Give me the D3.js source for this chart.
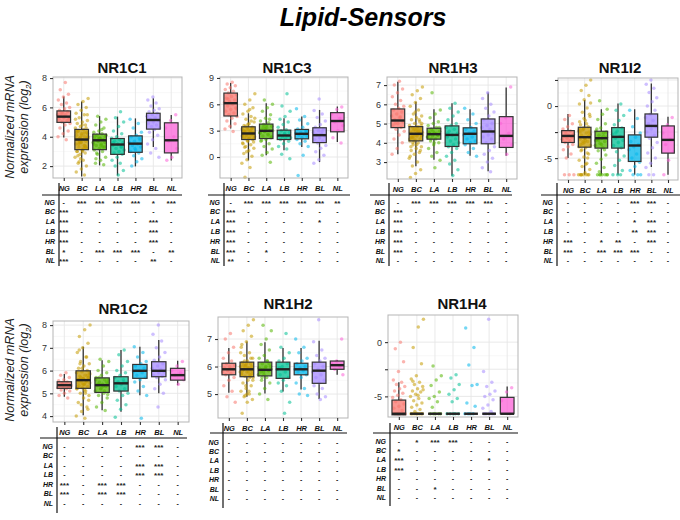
<!DOCTYPE html>
<html><head><meta charset="utf-8">
<script src="https://cdn.jsdelivr.net/npm/d3@7"></script>
<style>body{margin:0;background:#fff;} svg{display:block;font-family:"Liberation Sans",Arial,sans-serif;}</style>
</head><body><svg id="c" width="680" height="520"></svg>
<script>
const mainTitle = "Lipid-Sensors";
const groups = ["NG","BC","LA","LB","HR","BL","NL"];
const genes = ["NR1C1","NR1C3","NR1H3","NR1I2","NR1C2","NR1H2","NR1H4"];
const colors = ["#F8766D","#C49A00","#53B400","#00C094","#00B6EB","#A58AFF","#FB61D7"];

// y-axis domains and ticks per gene
const yDomains = [[1.19,8.07],[-2.39,9.11],[2.12,7.42],[-7.1,2.69],[3.74,8.18],[4.13,7.8],[-6.9,2.5]];
const yTicks = [[2,4,6,8],[0,3,6,9],[3,4,5,6,7],[-5,-2.5,0,2.5],[4,5,6,7,8],[5,6,7],[-5,-2.5,0]];
const yTickLabels = [["2","4","6","8"],["0","3","6","9"],["3","4","5","6","7"],["-5","","0",""],["4","5","6","7","8"],["5","6","7"],["-5","","0"]];

// box stats: [lower whisker, q1, median, q3, upper whisker]
const nr1c1Box = [[3.95,4.98,5.37,5.76,6.74],[1.29,3.12,3.81,4.5,6.4],[2.05,3.12,3.76,4.18,5.41],[1.36,2.8,3.47,3.88,5.37],[1.98,2.94,3.53,4.06,5.25],[3.3,4.52,5.14,5.6,6.63],[2.39,2.9,3.76,4.95,5.48]];
const nr1c3Box = [[3.25,4.67,6.13,7.28,8.42],[-0.39,1.99,2.68,3.44,4.98],[0.19,2.1,2.98,3.75,6.13],[0.76,1.99,2.45,3.06,4.4],[1.15,2.07,2.64,3.14,4.6],[-0.58,1.64,2.49,3.33,5.36],[1.72,2.87,4.1,5.05,5.74]];
const nr1h3Box = [[3.41,4.79,5.16,5.76,7.17],[2.78,4.1,4.47,4.84,6.14],[3.12,4.19,4.45,4.76,5.74],[2.29,3.81,4.41,4.88,6.05],[3.33,3.95,4.47,4.78,5.74],[2.52,3.95,4.59,5.24,6.62],[3.33,3.76,4.36,5.36,6.88]];
const nr1i2Box = [[-5.0,-3.5,-2.87,-2.36,-0.76],[-6.6,-3.95,-2.99,-2.04,0.57],[-6.6,-4.04,-3.09,-2.42,-0.32],[-6.6,-4.04,-2.96,-2.07,0.25],[-6.6,-5.32,-3.79,-2.77,-0.32],[-5.86,-2.99,-1.91,-0.76,2.17],[-6.6,-4.52,-3.25,-1.91,-1.02]];
const nr1c2Box = [[4.85,5.22,5.36,5.51,5.85],[4.04,5.22,5.58,5.99,7.05],[4.26,5.04,5.36,5.68,6.46],[4.19,5.1,5.44,5.73,6.9],[4.92,5.66,5.99,6.27,7.05],[5.0,5.73,5.99,6.39,7.34],[5.36,5.58,5.8,6.1,6.43]];
const nr1h2Box = [[5.05,5.7,5.9,6.12,6.67],[4.9,5.63,5.9,6.16,6.91],[5.02,5.66,5.88,6.16,6.88],[5.09,5.57,5.9,6.16,6.67],[5.17,5.7,5.9,6.12,6.67],[4.82,5.39,5.85,6.16,6.94],[5.7,5.9,6.05,6.2,6.24]];
const nr1h4Box = [[-6.7,-6.7,-6.6,-5.34,-3.7],[-6.6,-6.6,-6.6,-6.6,-6.6],[-6.6,-6.6,-6.6,-6.6,-6.6],[-6.6,-6.6,-6.6,-6.6,-6.6],[-6.6,-6.6,-6.6,-6.6,-6.6],[-6.6,-6.6,-6.6,-6.6,-6.6],[-6.6,-6.6,-6.6,-5.09,-4.1]];

// individual samples
const nr1c1Points = [
 [7.7,7.2,6.9,6.7,6.5,6.3,6.2,6.0,5.9,5.8,5.7,5.6,5.5,5.5,5.4,5.3,5.3,5.2,5.1,5.0,4.9,4.8,4.6,4.4,4.2,4.0,3.8,5.6,5.2,5.4],
 [6.6,6.4,6.2,6.0,5.8,5.6,5.5,5.3,5.1,5.0,4.9,4.8,4.7,4.6,4.5,4.4,4.3,4.2,4.1,4.0,3.9,3.9,3.8,3.8,3.7,3.6,3.5,3.4,3.3,3.2,3.1,3.0,2.9,2.8,2.6,2.4,2.2,2.0,1.8,1.6,1.4,3.6,4.2,3.0,4.4,3.3,2.5,5.2,
  3.2,3.5,3.9,4.1,4.3,3.4,3.7,4.0,3.1,2.7,4.6,3.6,3.85,4.25,2.3,5.5,4.8,3.0,3.3,3.95],
 [5.4,5.2,5.0,4.8,4.6,4.4,4.3,4.2,4.1,4.0,3.9,3.8,3.8,3.7,3.6,3.5,3.4,3.3,3.2,3.1,3.0,2.8,2.6,2.4,2.2,2.1,3.9,3.5,4.5,2.9,3.6,3.9,4.0,3.3,3.75,4.1,3.4,2.5],
 [5.7,5.3,5.0,4.7,4.4,4.2,4.0,3.9,3.8,3.7,3.6,3.5,3.4,3.3,3.2,3.1,3.0,2.9,2.8,2.6,2.4,2.2,2.0,1.7,1.4,3.6,3.3],
 [5.2,4.9,4.6,4.3,4.1,4.0,3.9,3.7,3.6,3.5,3.4,3.3,3.1,3.0,2.9,2.7,2.5,2.3,2.0,3.8,3.2],
 [6.7,6.5,6.3,6.1,5.9,5.8,5.7,5.6,5.5,5.4,5.3,5.2,5.1,5.0,4.9,4.8,4.7,4.6,4.5,4.3,4.1,3.8,3.5,3.2,2.9,2.6],
 [5.5,5.1,4.6,4.0,3.7,3.2,2.6,2.4]];
const nr1c3Points = [
 [8.5,8.3,8.1,7.9,7.7,7.5,7.3,7.1,6.9,6.7,6.5,6.3,6.2,6.0,5.8,5.6,5.4,5.2,5.0,4.8,4.6,4.4,4.1,3.8,3.5,3.2,2.9,6.6,5.5],
 [7.2,6.5,6.0,5.6,5.2,4.9,4.6,4.3,4.0,3.8,3.6,3.4,3.3,3.2,3.0,2.9,2.8,2.7,2.6,2.5,2.4,2.3,2.2,2.1,2.0,1.8,1.6,1.4,1.2,1.0,0.7,0.4,0.1,-0.3,-0.7,-1.2,-2.3,2.7,3.1,1.5,4.1,2.5,
  2.2,2.6,3.0,3.3,1.9,2.4,2.8,3.5,1.7,2.1,2.9,3.2,0.6,4.4,5.4,1.1,2.55,3.7,2.35,2.75],
 [6.5,6.0,5.6,5.2,4.8,4.4,4.1,3.9,3.7,3.5,3.3,3.1,3.0,2.9,2.8,2.6,2.4,2.2,2.0,1.8,1.5,1.2,0.9,0.5,0.2,-0.6,3.2,2.7,2.5,3.4,2.3,3.6,1.9,4.3,2.9,3.0],
 [7.2,5.8,5.2,4.6,4.3,4.0,3.7,3.4,3.1,3.0,2.8,2.6,2.5,2.4,2.3,2.2,2.1,2.0,1.8,1.5,1.2,0.9,0.3,-0.2,2.7],
 [5.5,4.6,4.2,3.8,3.4,3.2,3.0,2.8,2.7,2.6,2.5,2.4,2.2,2.0,1.8,1.5,1.2,0.2,-2.1,2.9],
 [6.6,5.3,4.9,4.5,4.1,3.7,3.4,3.2,3.0,2.8,2.6,2.5,2.4,2.2,2.0,1.8,1.6,1.3,1.0,0.6,0.2,-0.3,-0.7,2.9],
 [5.7,5.4,4.9,4.4,4.0,3.6,3.0,2.2,1.6]];
const nr1h3Points = [
 [7.2,7.0,6.8,6.6,6.4,6.2,6.0,5.9,5.8,5.7,5.6,5.5,5.4,5.3,5.2,5.1,5.0,4.9,4.8,4.7,4.6,4.4,4.2,4.0,3.7,3.4,5.35,5.0],
 [6.9,6.7,6.5,6.3,6.1,5.9,5.7,5.5,5.4,5.3,5.2,5.1,5.0,4.9,4.85,4.8,4.7,4.6,4.55,4.5,4.45,4.4,4.35,4.3,4.2,4.15,4.1,4.0,3.9,3.8,3.7,3.6,3.5,3.4,3.2,3.0,2.8,2.6,2.4,2.2,4.6,4.3,5.0,3.9,
  4.3,4.5,4.7,4.2,4.6,4.0,4.9,4.4,3.8,5.2,4.1,4.55,4.75,4.25,3.6,5.6,3.3,4.45,4.65,4.35],
 [6.6,5.7,5.5,5.3,5.1,5.0,4.9,4.8,4.7,4.6,4.5,4.45,4.4,4.35,4.3,4.2,4.1,4.0,3.9,3.7,3.5,3.3,3.1,2.7,4.5,4.4,4.6,4.3,4.5,4.2,4.8,4.0,4.55],
 [6.05,5.8,5.6,5.4,5.2,5.0,4.9,4.8,4.7,4.6,4.5,4.4,4.3,4.2,4.1,4.0,3.9,3.8,3.7,3.5,3.3,3.1,2.9,2.6,2.3,4.5],
 [5.8,5.5,5.2,5.0,4.8,4.7,4.6,4.5,4.4,4.3,4.2,4.1,4.0,3.9,3.7,3.5,3.3,4.5],
 [6.6,6.3,6.0,5.8,5.6,5.4,5.2,5.0,4.9,4.8,4.7,4.6,4.5,4.4,4.3,4.2,4.0,3.8,3.6,3.4,3.2,3.0,2.7,2.5],
 [6.9,5.3,5.0,4.5,4.2,3.9,3.4]];
const nr1i2Points = [
 [-0.9,-1.3,-1.7,-2.0,-2.2,-2.4,-2.6,-2.7,-2.8,-2.9,-3.0,-3.1,-3.2,-3.3,-3.5,-3.7,-3.9,-4.2,-4.6,-5.0,-6.6,-6.6,-6.6,-2.9],
 [2.5,2.0,1.5,1.0,0.6,0.2,-0.2,-0.6,-1.0,-1.4,-1.8,-2.0,-2.2,-2.4,-2.6,-2.8,-3.0,-3.1,-3.2,-3.4,-3.6,-3.8,-4.0,-4.3,-4.6,-4.9,-5.2,-5.5,-5.8,-6.1,-6.4,-6.6,-6.6,-6.6,-6.6,-6.6,-6.6,-2.5,-3.5,-1.5,-4.5,
  -2.3,-2.7,-3.3,-3.7,-2.9,-2.1,-3.9,-1.7,-4.2,-0.8,-3.1,-2.5,-5.0,-3.4,0.3,-5.6,-6.6,-6.6,-1.2,-2.2],
 [0.5,-0.3,-0.8,-1.3,-1.7,-2.1,-2.4,-2.6,-2.8,-3.0,-3.1,-3.2,-3.4,-3.6,-3.8,-4.0,-4.3,-4.7,-5.1,-5.5,-5.9,-6.3,-6.6,-6.6,-6.6,-6.6,-6.6,-3.3,-2.9,-3.3,-2.5,-3.7,-2.2,-4.2,-6.6,-6.6],
 [0.2,-0.4,-0.9,-1.4,-1.8,-2.1,-2.4,-2.7,-2.9,-3.1,-3.3,-3.5,-3.8,-4.0,-4.4,-4.8,-5.2,-5.7,-6.2,-6.6,-6.6,-6.6,-2.6],
 [-0.4,-1.2,-2.0,-2.6,-3.0,-3.4,-3.7,-3.9,-4.2,-4.6,-5.0,-5.4,-5.8,-6.2,-6.6,-6.6,-6.6],
 [2.5,2.1,1.7,1.3,0.8,0.4,0.0,-0.4,-0.8,-1.1,-1.4,-1.7,-2.0,-2.2,-2.5,-2.8,-3.1,-3.5,-4.0,-4.5,-5.0,-5.5,-5.9,-6.6,-6.6],
 [-1.1,-1.8,-2.6,-3.2,-3.7,-4.4,-5.2,-6.6]];
const nr1c2Points = [
 [5.9,5.8,5.7,5.6,5.55,5.5,5.45,5.4,5.38,5.35,5.3,5.28,5.25,5.2,5.15,5.1,5.0,4.9,4.8,5.4,5.33],
 [8.0,7.8,7.5,7.2,7.0,6.8,6.6,6.4,6.3,6.2,6.1,6.0,5.95,5.9,5.8,5.75,5.7,5.65,5.6,5.55,5.5,5.45,5.4,5.35,5.3,5.25,5.2,5.1,5.0,4.9,4.8,4.6,4.4,4.2,4.0,3.9,5.6,5.7,5.4,
  5.3,5.5,5.7,5.9,5.4,5.6,5.8,6.1,5.2,5.0,6.3,4.7,5.65,5.45,6.6,4.5,5.85,5.15,6.9,4.3],
 [6.5,6.4,6.2,6.0,5.9,5.8,5.7,5.6,5.5,5.45,5.4,5.35,5.3,5.2,5.1,5.0,4.9,4.8,4.6,4.4,4.25,5.38,5.6,5.3,5.4,5.5,5.2,5.6,5.1,5.7,4.95],
 [6.9,6.7,6.4,6.2,6.0,5.9,5.8,5.7,5.6,5.5,5.45,5.4,5.3,5.2,5.1,5.0,4.9,4.7,4.5,4.3,3.95,5.5],
 [7.05,6.8,6.6,6.4,6.3,6.2,6.1,6.0,5.95,5.9,5.8,5.7,5.6,5.5,5.3,5.1,4.9,3.9,6.0],
 [8.0,7.6,7.3,7.0,6.8,6.6,6.45,6.3,6.2,6.1,6.05,6.0,5.95,5.9,5.8,5.75,5.7,5.6,5.4,5.2,5.0,4.4,6.0],
 [6.4,6.2,6.0,5.9,5.8,5.6,5.4]];
const nr1h2Points = [
 [7.2,7.0,6.7,6.5,6.3,6.2,6.1,6.05,6.0,5.95,5.9,5.85,5.8,5.75,5.7,5.6,5.5,5.3,5.1,4.9,4.7,5.92],
 [7.7,7.5,7.3,7.1,6.9,6.7,6.5,6.4,6.3,6.2,6.15,6.1,6.05,6.0,5.95,5.9,5.85,5.8,5.75,5.7,5.65,5.6,5.5,5.4,5.3,5.2,5.1,5.0,4.9,4.8,4.7,4.3,5.9,6.0,5.8,
  5.8,5.9,6.0,6.1,5.7,5.6,6.2,5.5,5.95,5.85,6.3,5.3,6.5,5.1,6.05,5.75,5.0,6.8,5.65,4.95],
 [7.5,7.3,7.0,6.8,6.6,6.4,6.3,6.2,6.1,6.0,5.95,5.9,5.85,5.8,5.7,5.6,5.5,5.4,5.2,5.0,4.8,5.9,5.9,6.0,5.8,6.1,5.7,5.95,6.2,5.6],
 [7.2,6.7,6.5,6.3,6.2,6.1,6.0,5.9,5.8,5.7,5.6,5.5,5.4,5.3,5.1,4.7,4.3,5.95],
 [7.0,6.7,6.5,6.3,6.2,6.1,6.0,5.95,5.9,5.85,5.8,5.7,5.6,5.4,5.2,5.0,4.95],
 [7.7,6.9,6.6,6.4,6.3,6.2,6.1,6.0,5.9,5.8,5.7,5.6,5.5,5.4,5.3,5.2,5.0,4.9,4.8],
 [7.0,6.2,6.1,6.0,5.9,5.7]];
const nr1h4Points = [
 [0.0,-0.6,-1.8,-2.7,-3.5,-3.7,-3.9,-4.1,-4.3,-4.5,-4.7,-4.9,-5.1,-5.3,-5.5,-5.7,-5.9,-6.1,-6.3,-6.6,-6.6,-6.6,-6.6,-6.6,-6.6],
 [2.1,1.4,-0.5,-2.0,-3.1,-3.4,-3.7,-3.9,-4.1,-4.3,-4.5,-4.6,-4.8,-5.0,-5.2,-5.4,-5.6,-5.8,-6.0,-6.2,-6.4,-4.4,-4.9,-3.6,-6.6,-6.6,-6.6,-6.6,-6.6,-6.6,-6.6,-6.6],
 [-2.2,-3.1,-3.5,-4.0,-4.6,-5.0,-5.2,-5.5,-6.0,-6.6,-6.6,-6.6,-6.6,-6.6],
 [-3.0,-3.3,-3.9,-4.4,-4.8,-5.2,-5.5,-6.6,-6.6,-6.6,-6.6,-6.6],
 [1.3,-0.5,-2.1,-3.9,-4.0,-5.6,-5.9,-6.6,-6.6,-6.6,-6.6],
 [2.1,-2.7,-3.7,-4.1,-4.5,-4.8,-5.0,-5.3,-5.8,-6.1,-6.4,-6.6,-6.6,-6.6,-6.6,-6.6],
 [-4.2,-4.6,-5.4,-6.6]];

// pairwise significance tables (rows and columns in group order)
const nr1c1Sig = ["- *** *** *** *** * ***","*** - - - - - -","*** - - - - *** -","*** - - - - *** -","*** - - - - *** -","* - *** *** *** - **","*** - - - - ** -"];
const nr1c3Sig = ["- *** *** *** *** *** **","*** - - - - - -","*** - - - - * -","*** - - - - - -","*** - - - - - -","*** - * - - - -","** - - - - - -"];
const nr1h3Sig = ["- *** *** *** *** *** -","*** - - - - - -","*** - - - - - -","*** - - - - - -","*** - - - - - -","*** - - - - - -","- - - - - - -"];
const nr1i2Sig = ["- - - - *** *** -","- - - - - - -","- - - - * *** -","- - - - ** *** -","*** - * ** - *** -","*** - *** *** *** - -","- - - - - - -"];
const nr1c2Sig = ["- - - - *** *** -","- - - - - - -","- - - - *** *** -","- - - - *** *** -","*** - *** *** - - -","*** - *** *** - - -","- - - - - - -"];
const nr1h2Sig = ["- - - - - - -","- - - - - - -","- - - - - - -","- - - - - - -","- - - - - - -","- - - - - - -","- - - - - - -"];
const nr1h4Sig = ["- * *** *** - - -","* - - - - - -","*** - - - - * -","*** - - - - - -","- - - - - - -","- - * - - - -","- - - - - - -"];

const boxes = [nr1c1Box,nr1c3Box,nr1h3Box,nr1i2Box,nr1c2Box,nr1h2Box,nr1h4Box];
const points = [nr1c1Points,nr1c3Points,nr1h3Points,nr1i2Points,nr1c2Points,nr1h2Points,nr1h4Points];
const sigs = [nr1c1Sig,nr1c3Sig,nr1h3Sig,nr1i2Sig,nr1c2Sig,nr1h2Sig,nr1h4Sig];

// layout (pixels)
const layout = [
 {x0:53,x1:182,y0:77,y1:178,tx:122,ty:73,hy:195,r0:202,rs:9.8,vx:59,hx0:42,hx1:182,vy0:183,vy1:266},
 {x0:220,x1:348,y0:77,y1:178,tx:287,ty:73,hy:195,r0:202,rs:9.8,vx:224,hx0:208,hx1:350,vy0:183,vy1:266},
 {x0:387,x1:517,y0:77,y1:179,tx:453,ty:73,hy:195,r0:202,rs:9.8,vx:389,hx0:370,hx1:512,vy0:183,vy1:266},
 {x0:558,x1:678,y0:78,y1:180,tx:620,ty:73,hy:195,r0:202,rs:9.8,vx:557,hx0:541,hx1:680,vy0:183,vy1:266},
 {x0:53,x1:189,y0:321,y1:422,tx:123,ty:314,hy:438,r0:446,rs:9.5,vx:57,hx0:40,hx1:187,vy0:427,vy1:513},
 {x0:218,x1:348,y0:317,y1:418,tx:288,ty:309,hy:433,r0:442,rs:9.4,vx:223,hx0:210,hx1:347,vy0:423,vy1:508},
 {x0:388,x1:518,y0:315,y1:417,tx:462,ty:309,hy:433,r0:441,rs:9.4,vx:390,hx0:373,hx1:518,vy0:423,vy1:506}
];

const svg = d3.select("#c");

svg.append("text").attr("x",363).attr("y",26).attr("text-anchor","middle")
  .attr("font-size",25).attr("font-weight","bold").attr("font-style","italic").attr("fill","#000").text(mainTitle);

// y-axis titles
[127,370].forEach(cy=>{
  const t = svg.append("text").attr("transform",`translate(14,${cy}) rotate(-90)`).attr("text-anchor","middle")
    .attr("font-size",12.5).attr("font-style","italic").attr("fill","#222");
  t.append("tspan").attr("x",0).attr("dy",0).text("Normalized mRNA");
  const t2 = svg.append("text").attr("transform",`translate(28,${cy}) rotate(-90)`).attr("text-anchor","middle")
    .attr("font-size",12.5).attr("font-style","italic").attr("fill","#222");
  t2.append("tspan").text("expression (log");
  t2.append("tspan").attr("font-size",8).attr("dy",3).text("2");
  t2.append("tspan").attr("dy",-3).text(")");
});

function drawPanel(gi){
  const L = layout[gi];
  const g = svg.append("g");
  const x = d3.scalePoint().domain(groups).range([L.x0,L.x1]).padding(0.6);
  const y = d3.scaleLinear().domain(yDomains[gi]).range([L.y1,L.y0]);
  const step = x.step();
  const bw = step*0.76;

  g.append("rect").attr("x",L.x0).attr("y",L.y0).attr("width",L.x1-L.x0).attr("height",L.y1-L.y0).attr("fill","#fff");
  const tk = yTicks[gi];
  for(let i=0;i<tk.length-1;i++){
    const m=(tk[i]+tk[i+1])/2;
    g.append("line").attr("x1",L.x0).attr("x2",L.x1).attr("y1",y(m)).attr("y2",y(m)).attr("stroke","#f3f3f3").attr("stroke-width",0.6);
  }
  tk.forEach(v=>{
    if(y(v)>=L.y0 && y(v)<=L.y1)
      g.append("line").attr("x1",L.x0).attr("x2",L.x1).attr("y1",y(v)).attr("y2",y(v)).attr("stroke","#e6e6e6").attr("stroke-width",0.9);
  });
  groups.forEach(c=>{
    g.append("line").attr("x1",x(c)).attr("x2",x(c)).attr("y1",L.y0).attr("y2",L.y1).attr("stroke","#e6e6e6").attr("stroke-width",0.9);
  });

  const bx = boxes[gi];
  groups.forEach((c,k)=>{
    const b = bx[k], cx = x(c);
    g.append("line").attr("x1",cx).attr("x2",cx).attr("y1",y(b[4])).attr("y2",y(b[3])).attr("stroke","#333").attr("stroke-width",1.3);
    g.append("line").attr("x1",cx).attr("x2",cx).attr("y1",y(b[1])).attr("y2",y(b[0])).attr("stroke","#333").attr("stroke-width",1.3);
    g.append("rect").attr("x",cx-bw/2).attr("y",y(b[3])).attr("width",bw).attr("height",Math.max(0,y(b[1])-y(b[3])))
      .attr("fill",colors[k]).attr("fill-opacity",0.75);
  });
  points[gi].forEach((arr,k)=>{
    const cx = x(groups[k]);
    arr.forEach((v,i)=>{
      const j = (((i+1)*0.6180339887 + k*0.37)%1) - 0.5;
      g.append("circle").attr("cx",cx + j*step*0.74).attr("cy",y(v)).attr("r",1.75)
        .attr("fill",colors[k]).attr("fill-opacity",0.55);
    });
  });
  groups.forEach((c,k)=>{
    const b = bx[k], cx = x(c);
    g.append("rect").attr("x",cx-bw/2).attr("y",y(b[3])).attr("width",bw).attr("height",Math.max(0,y(b[1])-y(b[3])))
      .attr("fill","none").attr("stroke","#333").attr("stroke-width",1.2);
    g.append("line").attr("x1",cx-bw/2).attr("x2",cx+bw/2).attr("y1",y(b[2])).attr("y2",y(b[2])).attr("stroke","#222").attr("stroke-width",2.4);
  });

  g.append("rect").attr("x",L.x0).attr("y",L.y0).attr("width",L.x1-L.x0).attr("height",L.y1-L.y0)
    .attr("fill","none").attr("stroke","#b5b5b5").attr("stroke-width",1);

  const ya = g.append("g").attr("transform",`translate(${L.x0},0)`)
    .call(d3.axisLeft(y).tickValues(tk).tickSize(3).tickPadding(3).tickFormat((d,i)=>yTickLabels[gi][i]));
  ya.select(".domain").remove();
  ya.selectAll("line").attr("stroke","#333").attr("stroke-width",1.1);
  ya.selectAll("text").attr("font-size",9).attr("fill","#333").attr("font-family","Liberation Sans, Arial, sans-serif");

  const xa = g.append("g").attr("transform",`translate(0,${L.y1})`)
    .call(d3.axisBottom(x).tickSize(3).tickPadding(5));
  xa.select(".domain").remove();
  xa.selectAll("line").attr("stroke","#333").attr("stroke-width",1.1);
  xa.selectAll("text").attr("font-size",7.5).attr("font-weight","bold").attr("font-style","italic").attr("fill","#111")
    .attr("font-family","Liberation Sans, Arial, sans-serif");

  g.append("text").attr("x",L.tx).attr("y",L.ty).attr("text-anchor","middle").attr("font-size",15)
    .attr("font-weight","bold").attr("fill","#111").text(genes[gi]);

  g.append("line").attr("x1",L.hx0).attr("x2",L.hx1).attr("y1",L.hy).attr("y2",L.hy).attr("stroke","#111").attr("stroke-width",1.2);
  g.append("line").attr("x1",L.vx).attr("x2",L.vx).attr("y1",L.vy0).attr("y2",L.vy1).attr("stroke","#111").attr("stroke-width",1.2);
  sigs[gi].forEach((row,r)=>{
    const yy = L.r0 + r*L.rs;
    g.append("text").attr("x",L.vx-4).attr("y",yy+2.5).attr("text-anchor","end").attr("font-size",7)
      .attr("font-weight","bold").attr("font-style","italic").attr("fill","#111").text(groups[r]);
    row.split(" ").forEach((s,cI)=>{
      g.append("text").attr("x",x(groups[cI])).attr("y",yy+(s==="-"?2.5:3.5)).attr("text-anchor","middle")
        .attr("font-size",s==="-"?7:8).attr("font-weight","bold").attr("fill","#222").text(s);
    });
  });
}
genes.forEach((_,i)=>drawPanel(i));
</script></body></html>
